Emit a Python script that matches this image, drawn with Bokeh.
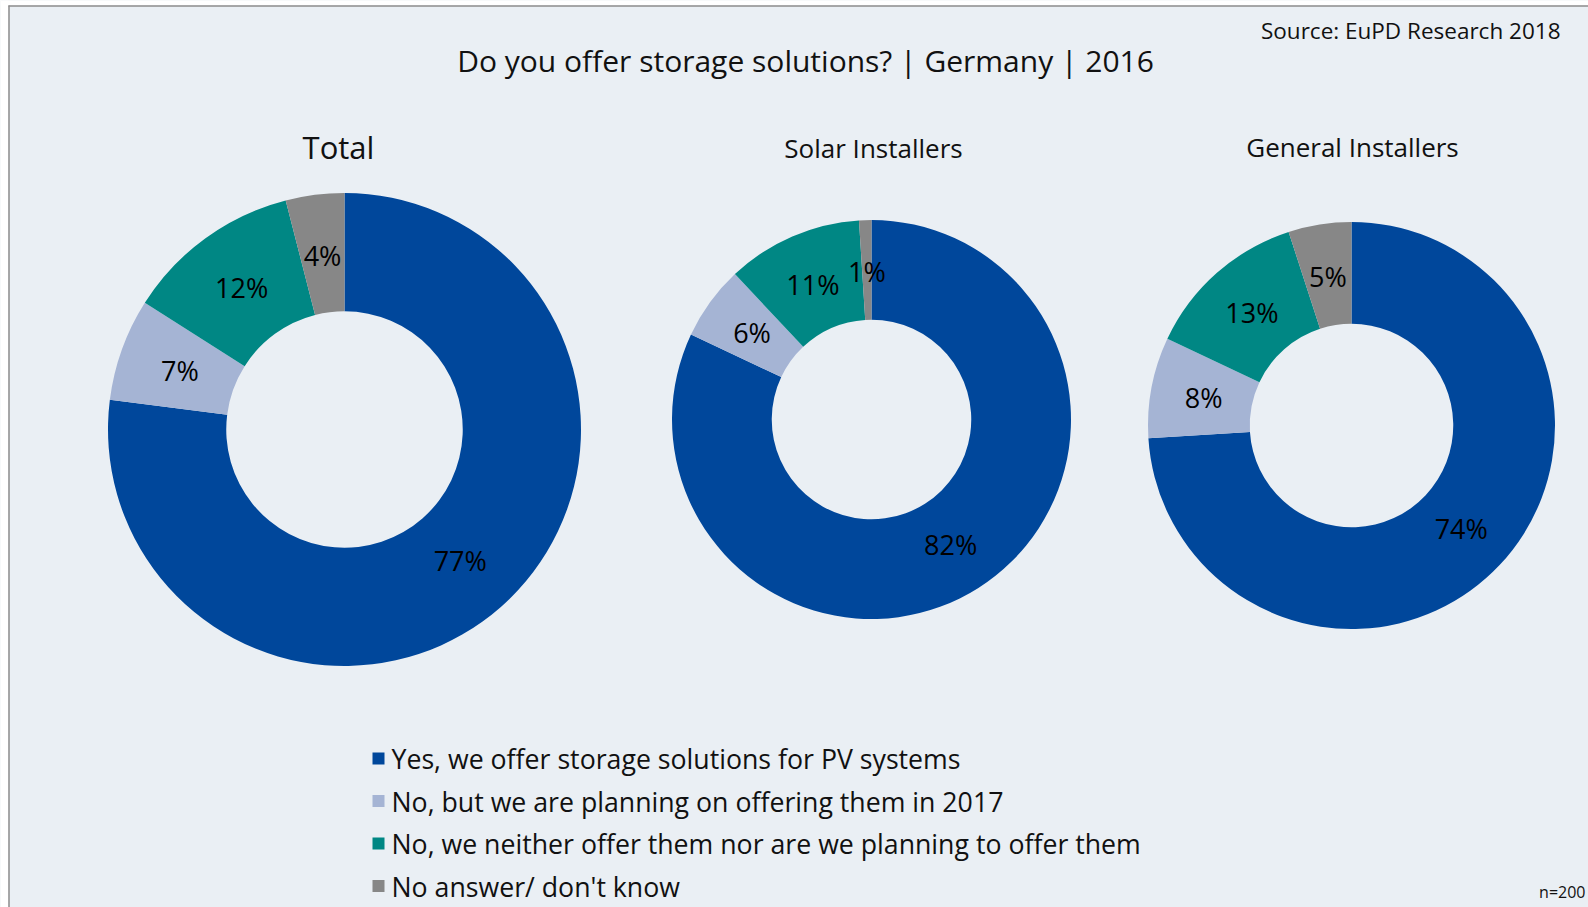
import numpy as np
from bokeh.plotting import figure
from bokeh.models import Range1d, ColumnDataSource
from bokeh.core.properties import value
from bokeh.embed import file_html
from bokeh.resources import INLINE

# ---------------- data ----------------
categories = [
    "Yes, we offer storage solutions for PV systems",
    "No, but we are planning on offering them in 2017",
    "No, we neither offer them nor are we planning to offer them",
    "No answer/ don't know",
]
colors = ["#00479B", "#A5B4D4", "#008784", "#878787"]
groups = ["Total", "Solar Installers", "General Installers"]
total_vals = [77, 7, 12, 4]
solar_vals = [82, 6, 11, 1]
general_vals = [74, 8, 13, 5]
title_text = "Do you offer storage solutions? | Germany | 2016"
source_text = "Source: EuPD Research 2018"
n_text = "n=200"

# ---------------- layout (page pixels) ----------------
W, H = 1588, 907
BG = "#EAEFF4"
FONT = "Open Sans"

def X(xp):
    return xp

def Y(yp):
    return H - yp

donuts = [
    dict(vals=total_vals, cx=344, cy=429, R=236.5, head=(338, 146), hsize="31px"),
    dict(vals=solar_vals, cx=871, cy=419, R=199.5, head=(873, 147), hsize="26px"),
    dict(vals=general_vals, cx=1351, cy=425, R=203.5, head=(1352, 146), hsize="26px"),
]

p = figure(width=W, height=H, x_range=Range1d(0, W), y_range=Range1d(0, H),
           output_backend="svg", toolbar_location=None, min_border=0,
           background_fill_color=BG, border_fill_color=BG, outline_line_color=None)
p.axis.visible = False
p.grid.visible = False

# white strip above the frame line, then border lines (top and left)
p.quad(left=[0], right=[W], bottom=[Y(5)], top=[H], fill_color="#FFFFFF", line_color=None)
p.quad(left=[0], right=[X(8)], bottom=[0], top=[H], fill_color="#FFFFFF", line_color=None)
p.segment(x0=[X(8), X(8.5)], y0=[Y(5.5), Y(5)], x1=[W, X(8.5)], y1=[Y(5.5), 0],
          line_color="#8C8C8C", line_width=1.5)

for g, d in zip(groups, donuts):
    vals = np.array(d["vals"], dtype=float)
    frac = vals / vals.sum()
    cum_end = np.cumsum(frac)
    cum_start = cum_end - frac
    # clockwise from 12 o'clock
    start = np.pi / 2 - cum_end * 2 * np.pi
    end = np.pi / 2 - cum_start * 2 * np.pi
    mid = (cum_start + cum_end) / 2
    rm = 0.74 * d["R"]
    lx = X(d["cx"]) + rm * np.sin(mid * 2 * np.pi)
    ly = Y(d["cy"]) + rm * np.cos(mid * 2 * np.pi)
    src = ColumnDataSource(dict(start=start, end=end, color=colors,
                                lx=lx, ly=ly,
                                label=[f"{int(v)}%" for v in d["vals"]]))
    p.annular_wedge(x=X(d["cx"]), y=Y(d["cy"]), inner_radius=0.5 * d["R"],
                    outer_radius=d["R"], start_angle="start", end_angle="end",
                    direction="anticlock", fill_color="color", line_color=None,
                    source=src)
    p.text(x="lx", y="ly", text="label", source=src, text_align="center",
           text_baseline="middle", text_font=value(FONT), text_font_size="27px",
           text_color="#000000")
    p.text(x=[X(d["head"][0])], y=[Y(d["head"][1])], text=[g], text_align="center",
           text_baseline="middle", text_font=value(FONT), text_font_size=d["hsize"],
           text_color="#111111")

# title and notes
p.text(x=[X(805)], y=[Y(60)], text=[title_text], text_align="center",
       text_baseline="middle", text_font=value(FONT), text_font_size="30px",
       text_color="#111111")
p.text(x=[X(1560)], y=[Y(30)], text=[source_text], text_align="right",
       text_baseline="middle", text_font=value(FONT), text_font_size="22.5px",
       text_color="#111111")
p.text(x=[X(1585)], y=[Y(891)], text=[n_text], text_align="right",
       text_baseline="middle", text_font=value(FONT), text_font_size="16px",
       text_color="#111111")

# legend
leg_y = [Y(758 + 42.5 * i) for i in range(len(categories))]
p.rect(x=[X(378)] * len(categories), y=leg_y, width=12, height=12,
       fill_color=colors, line_color=None)
p.text(x=[X(391)] * len(categories), y=leg_y, text=categories, text_align="left",
       text_baseline="middle", text_font=value(FONT), text_font_size="26.7px",
       text_color="#111111")

open("out.html", "w").write(file_html(p, INLINE))
